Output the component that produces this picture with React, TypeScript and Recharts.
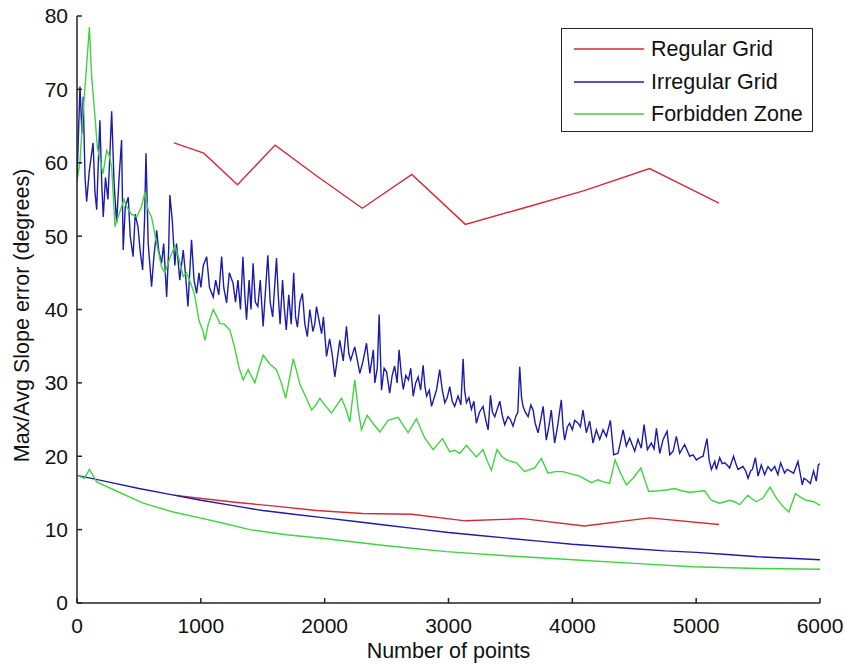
import React from 'react';
import { LineChart, Line, XAxis, YAxis } from 'recharts';

// x = number of points, y = slope error in degrees
const xTicks = [0, 1000, 2000, 3000, 4000, 5000, 6000];
const yTicks = [0, 10, 20, 30, 40, 50, 60, 70, 80];

const regularMax: [number, number][] = [
  [784, 62.7], [1024, 61.3], [1296, 57.0], [1600, 62.4], [1936, 58.2], [2304, 53.8],
  [2704, 58.4], [3136, 51.6], [3600, 53.8], [4096, 56.2], [4624, 59.2], [5184, 54.5],
];

const regularAvg: [number, number][] = [
  [784, 14.7], [1024, 14.2], [1296, 13.7], [1600, 13.2], [1936, 12.6], [2304, 12.2],
  [2704, 12.1], [3136, 11.2], [3600, 11.5], [4096, 10.5], [4624, 11.6], [5184, 10.7],
];

const irregularMax: [number, number][] = [
  [0, 57.5], [24, 70.4], [40, 64], [50, 69], [65, 58], [78, 54.7], [100, 59], [130, 62.7],
  [145, 56], [159, 53.6], [172, 60], [185, 65.8], [200, 57], [212, 52.6], [230, 58], [250, 55],
  [265, 61], [280, 67], [300, 57], [320, 51.8], [340, 58], [360, 63.1], [373, 48.1], [390, 54],
  [414, 55.3], [430, 50], [453, 47.2], [470, 53], [493, 51.2], [510, 48], [530, 45.4], [545, 52],
  [557, 61.3], [575, 49], [602, 43.1], [620, 47], [643, 50.8], [660, 48], [683, 46.3], [700, 49],
  [724, 41.7], [740, 48], [750, 55.6], [770, 52], [790, 46], [804, 49], [830, 44], [858, 48.1],
  [875, 45], [896, 40.4], [910, 45], [925, 49.5], [945, 44], [966, 42.2], [985, 45], [1000, 43],
  [1020, 46], [1047, 47.2], [1070, 43], [1100, 41.7], [1120, 44], [1145, 42], [1168, 47.2],
  [1185, 43], [1208, 40.9], [1230, 45], [1260, 43.6], [1280, 41], [1300, 44], [1320, 40],
  [1340, 47.2], [1355, 42], [1369, 38.6], [1390, 44], [1405, 40], [1422, 46.3], [1440, 41],
  [1460, 40.4], [1480, 44], [1503, 37.7], [1520, 42], [1541, 47.4], [1560, 41], [1580, 39],
  [1611, 47], [1625, 42], [1640, 38], [1660, 44], [1675, 40], [1690, 37.2], [1710, 42],
  [1730, 38], [1750, 45], [1765, 39], [1780, 37.6], [1800, 41], [1820, 42.2], [1840, 38],
  [1860, 36.3], [1880, 40], [1905, 37], [1920, 38], [1934, 40.4], [1960, 38], [1975, 36.7],
  [1990, 39], [2015, 33.6], [2040, 36], [2060, 34], [2082, 30.8], [2100, 33], [2122, 35.8],
  [2150, 33], [2176, 37.7], [2195, 34], [2210, 33.1], [2243, 34.9], [2265, 33], [2284, 31.3],
  [2310, 33], [2338, 35.4], [2365, 31.3], [2393, 34.5], [2405, 30], [2425, 32], [2440, 39.3],
  [2459, 29], [2480, 32], [2500, 31.5], [2525, 28.6], [2545, 31], [2565, 32.3], [2585, 30],
  [2601, 34.5], [2620, 31], [2635, 29.1], [2655, 31], [2677, 30.4], [2695, 32], [2715, 28.2],
  [2735, 30], [2755, 30.8], [2775, 29], [2795, 32.4], [2810, 29.5], [2823, 28.2], [2845, 29],
  [2863, 26.8], [2885, 28], [2904, 29.1], [2929, 31.8], [2950, 29], [2970, 27.3], [2990, 28],
  [3010, 29.5], [3030, 27.5], [3050, 26.8], [3077, 28.2], [3100, 27], [3118, 33.3], [3130, 29],
  [3145, 27.3], [3165, 28], [3185, 26.4], [3205, 27.5], [3225, 24.5], [3250, 26], [3279, 26.8],
  [3300, 25], [3320, 23.6], [3339, 28.3], [3355, 26], [3374, 25.4], [3395, 26.5], [3414, 27.5],
  [3435, 25.5], [3454, 24.3], [3480, 25.4], [3500, 25], [3521, 24.1], [3545, 25.5], [3560, 26],
  [3575, 32.2], [3590, 28], [3602, 26.8], [3620, 26], [3643, 25.4], [3665, 27], [3683, 26.3],
  [3700, 24.5], [3723, 23.2], [3745, 25], [3764, 26.8], [3790, 22.2], [3810, 24], [3830, 26.3],
  [3857, 21.8], [3880, 24], [3911, 27.7], [3925, 24], [3938, 22.2], [3960, 24], [3978, 24.5],
  [4000, 23.6], [4019, 24.9], [4046, 24.5], [4065, 24], [4086, 26.3], [4113, 23.2], [4140, 24.8],
  [4167, 21.8], [4194, 23.6], [4221, 22.3], [4248, 23.6], [4275, 22.7], [4307, 24.9], [4334, 20.2],
  [4369, 20.4], [4390, 22], [4410, 23.6], [4436, 21.4], [4463, 22.5], [4485, 21.5], [4504, 20.7],
  [4530, 22.3], [4557, 21.1], [4579, 24.3], [4606, 20.9], [4638, 21.8], [4660, 21], [4679, 23.8],
  [4706, 20.4], [4733, 22.3], [4765, 23.4], [4787, 20.2], [4814, 20.7], [4840, 22.7], [4867, 20.4],
  [4907, 21.6], [4948, 20], [4975, 20.2], [5002, 19.5], [5030, 19.8], [5056, 20], [5087, 22.4],
  [5105, 19.5], [5123, 18.2], [5150, 19.3], [5163, 18.2], [5190, 19.8], [5210, 19], [5230, 19.1],
  [5250, 18.8], [5270, 18.4], [5302, 20], [5320, 19], [5338, 18.2], [5378, 18.6], [5400, 18],
  [5419, 17], [5440, 18], [5454, 18.2], [5478, 19.8], [5500, 17.3], [5526, 18.8], [5553, 17.5],
  [5580, 18.6], [5607, 18], [5634, 18.6], [5660, 17.5], [5682, 19.1], [5714, 17.7], [5735, 18.2],
  [5755, 18], [5787, 17.7], [5822, 19.3], [5857, 16.1], [5870, 17], [5890, 16.8], [5922, 16.3],
  [5948, 18], [5970, 16.6], [5986, 18.8], [6000, 19],
];

const irregularAvg: [number, number][] = [
  [0, 17.4], [250, 16.5], [500, 15.6], [750, 14.8], [1000, 14.0], [1250, 13.3], [1500, 12.6],
  [1750, 12.1], [2000, 11.6], [2250, 11.1], [2500, 10.6], [2750, 10.1], [3000, 9.6], [3250, 9.2],
  [3500, 8.8], [3750, 8.4], [4000, 8.0], [4250, 7.7], [4500, 7.4], [4750, 7.1], [5000, 6.9],
  [5250, 6.6], [5500, 6.3], [5750, 6.1], [6000, 5.9],
];

const forbiddenMax: [number, number][] = [
  [0, 57.5], [24, 60], [45, 66], [65, 70.4], [85, 75], [100, 78.5], [118, 71.8], [145, 66.3],
  [165, 62], [186, 60.5], [210, 58.5], [240, 61.7], [260, 61], [280, 59.4], [307, 51.3],
  [330, 52.5], [350, 53.5], [380, 55], [401, 54], [440, 53], [482, 52.6], [520, 54], [549, 56],
  [575, 53.5], [602, 52.6], [643, 49], [683, 45.8], [710, 45], [750, 47], [791, 48.7], [830, 46.5],
  [858, 44.5], [885, 45], [920, 43.5], [950, 42], [985, 38.5], [1019, 37], [1033, 35.8], [1060, 38],
  [1100, 40], [1130, 39], [1154, 38.1], [1190, 38], [1235, 37.2], [1270, 35], [1310, 32],
  [1342, 30.4], [1382, 31.8], [1436, 30], [1470, 32], [1503, 33.8], [1560, 32.5], [1611, 31.8],
  [1650, 30], [1685, 27.9], [1715, 30.5], [1746, 33.3], [1775, 31.5], [1800, 29.8], [1850, 28],
  [1894, 26.3], [1930, 27], [1961, 27.9], [2010, 26.8], [2055, 25.9], [2100, 27], [2136, 27.9],
  [2170, 26.5], [2203, 24.7], [2243, 30.4], [2270, 26.5], [2297, 23.6], [2343, 25.6], [2390, 24.5],
  [2445, 23.3], [2512, 24.9], [2593, 25.3], [2635, 24.2], [2674, 23.2], [2741, 25.1], [2808, 22.5],
  [2876, 20.9], [2951, 22.4], [3010, 20.6], [3050, 20.8], [3091, 20.4], [3145, 21.5], [3225, 19.9],
  [3279, 20.9], [3310, 19.5], [3346, 18.1], [3392, 20.9], [3430, 20], [3467, 19.5], [3548, 19.1],
  [3615, 17.9], [3660, 18.2], [3696, 18.4], [3750, 19.7], [3803, 17.7], [3860, 17.9], [3924, 17.9],
  [3990, 17.6], [4059, 17.3], [4110, 16.8], [4153, 16.4], [4207, 16.8], [4250, 16.5], [4301, 16.3],
  [4345, 19.5], [4395, 17.5], [4436, 16.1], [4490, 17], [4553, 18.4], [4617, 15.2], [4700, 15.3],
  [4760, 15.4], [4826, 15.6], [4880, 15.3], [4948, 15.1], [5010, 15.2], [5069, 15.3], [5122, 14],
  [5189, 13.6], [5230, 13.8], [5270, 14], [5310, 13.8], [5351, 13.4], [5418, 14.7], [5450, 14.2],
  [5485, 13.8], [5539, 14.3], [5597, 15.8], [5630, 14.8], [5660, 14], [5705, 13.1], [5748, 12.4],
  [5802, 14.9], [5845, 14.4], [5889, 14], [5950, 13.8], [6000, 13.3],
];

const forbiddenAvg: [number, number][] = [
  [0, 17.4], [60, 17.0], [100, 18.2], [159, 16.5], [300, 15.4], [535, 13.6], [777, 12.4],
  [993, 11.6], [1200, 10.8], [1396, 10.0], [1692, 9.3], [1996, 8.8], [2500, 7.8], [2983, 7.0],
  [3500, 6.4], [4005, 5.9], [4500, 5.4], [4972, 4.95], [5500, 4.7], [6000, 4.6],
];

const RED = '#d42a3a';
const BLUE = '#1c1caa';
const GREEN = '#40d440';
const FONT = '"Liberation Sans", Arial, sans-serif';
const AXIS = '#222';
const LW = 1.4;

const toPts = (arr: [number, number][]) => arr.map(([x, y]) => ({ x, y }));

const legendItems = [
  { name: 'Regular Grid', color: RED },
  { name: 'Irregular Grid', color: BLUE },
  { name: 'Forbidden Zone', color: GREEN },
];

const YLabel = (props: any) => {
  const vb = props.viewBox || { y: 16, height: 587 };
  const cx = 22;
  const cy = vb.y + vb.height / 2 + 6;
  return (
    <text
      x={cx}
      y={cy}
      transform={`rotate(-90, ${cx}, ${cy})`}
      textAnchor="middle"
      dominantBaseline="central"
      fontSize={21.5}
      fontFamily={FONT}
      fill="#111"
    >
      Max/Avg Slope error (degrees)
    </text>
  );
};

const XLabel = (props: any) => {
  const vb = props.viewBox || { x: 77, width: 743 };
  return (
    <text x={vb.x + vb.width / 2} y={658} textAnchor="middle" fontSize={21.5} fontFamily={FONT} fill="#111">
      Number of points
    </text>
  );
};

export default function App() {
  const tickStyle = { fill: '#111', fontSize: 21, fontFamily: FONT };
  return (
    <div style={{ position: 'absolute', left: 0, top: 0, width: 847, height: 667, background: '#fff' }}>
      <LineChart width={847} height={667} margin={{ top: 16, right: 27, left: 0, bottom: 0 }}>
        <XAxis
          type="number"
          dataKey="x"
          domain={[0, 6000]}
          ticks={xTicks}
          height={64}
          tick={tickStyle}
          tickSize={-5}
          tickMargin={20}
          axisLine={{ stroke: AXIS, strokeWidth: 1.5 }}
          tickLine={{ stroke: AXIS, strokeWidth: 1.5 }}
          allowDataOverflow
          label={<XLabel />}
        />
        <YAxis
          type="number"
          dataKey="y"
          domain={[0, 80]}
          ticks={yTicks}
          width={77}
          tick={tickStyle}
          tickSize={-5}
          tickMargin={14}
          axisLine={{ stroke: AXIS, strokeWidth: 1.5 }}
          tickLine={{ stroke: AXIS, strokeWidth: 1.5 }}
          allowDataOverflow
          label={<YLabel />}
        />
        <Line data={toPts(regularMax)} dataKey="y" stroke={RED} strokeWidth={LW} dot={false} isAnimationActive={false} />
        <Line data={toPts(irregularMax)} dataKey="y" stroke={BLUE} strokeWidth={LW} dot={false} isAnimationActive={false} />
        <Line data={toPts(forbiddenMax)} dataKey="y" stroke={GREEN} strokeWidth={LW} dot={false} isAnimationActive={false} />
        <Line data={toPts(regularAvg)} dataKey="y" stroke={RED} strokeWidth={LW} dot={false} isAnimationActive={false} />
        <Line data={toPts(irregularAvg)} dataKey="y" stroke={BLUE} strokeWidth={LW} dot={false} isAnimationActive={false} />
        <Line data={toPts(forbiddenAvg)} dataKey="y" stroke={GREEN} strokeWidth={LW} dot={false} isAnimationActive={false} />
      </LineChart>
      <div
        style={{
          position: 'absolute',
          left: 561,
          top: 28,
          width: 252,
          height: 104,
          border: '1.5px solid #222',
          background: '#fff',
          fontFamily: FONT,
          fontSize: 21.5,
          color: '#111',
          boxSizing: 'border-box',
        }}
      >
        {legendItems.map((item, i) => (
          <div
            key={item.name}
            style={{ position: 'absolute', left: 0, top: 5 + i * 32.5, height: 30, display: 'flex', alignItems: 'center' }}
          >
            <svg width={70} height={6} style={{ marginLeft: 12, display: 'block' }}>
              <line x1={0} y1={3} x2={70} y2={3} stroke={item.color} strokeWidth={LW} />
            </svg>
            <span style={{ marginLeft: 7, lineHeight: '30px', whiteSpace: 'nowrap' }}>{item.name}</span>
          </div>
        ))}
      </div>
    </div>
  );
}
